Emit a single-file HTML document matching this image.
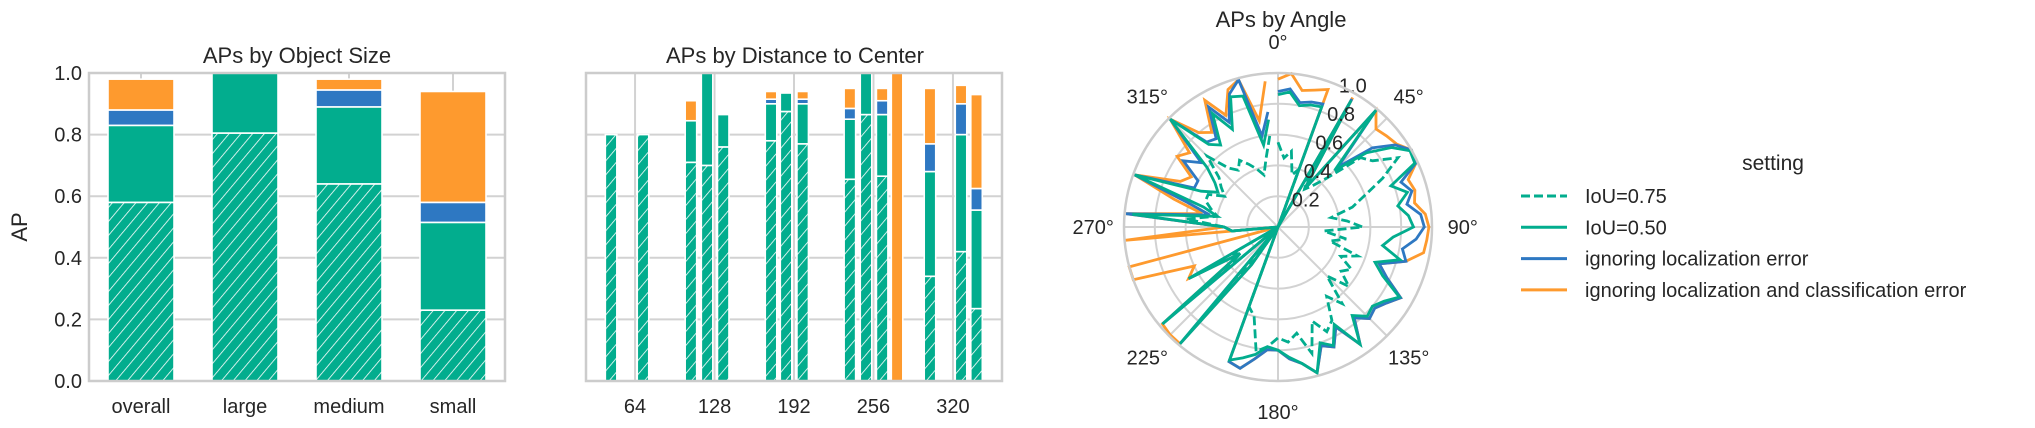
<!DOCTYPE html>
<html><head><meta charset="utf-8"><style>
html,body{margin:0;padding:0;background:#fff;}
svg{display:block;font-family:"Liberation Sans",Arial,sans-serif;}
</style></head><body>
<svg id="fig" width="2035" height="428" viewBox="0 0 2035 428" xmlns="http://www.w3.org/2000/svg">
<defs>
<pattern id="hatch" patternUnits="userSpaceOnUse" width="9" height="9" patternTransform="rotate(40)">
<rect width="9" height="9" fill="#02ad8e"/>
<line x1="0" y1="0" x2="0" y2="9" stroke="#fff" stroke-width="1.6"/>
</pattern>
</defs>
<g id="left"></g>
<g id="mid"></g>
<g id="polar"></g>
<g id="legend"></g>
</svg>
<script>
// ---- Size chart data ----
const sizeCats = ["overall","large","medium","small"];
const sizeIoU75 = [0.58,0.805,0.64,0.23];
const sizeIoU50 = [0.83,1.0,0.89,0.515];
const sizeLoc = [0.88,null,0.945,0.58];
const sizeCls = [0.98,null,0.98,0.94];
const yTicks = [0.0,0.2,0.4,0.6,0.8,1.0];
const yTickLabels = ["0.0","0.2","0.4","0.6","0.8","1.0"];
// ---- Distance chart data ----
const distCenters = [44.7,70.4,109,122,135,173.5,185.6,199,237,250,263,275,301.5,326.5,339];
const distIoU75 = [0.8,0.8,0.71,0.70,0.76,0.78,0.875,0.77,0.655,0.865,0.665,0,0.34,0.42,0.235];
const distIoU50 = [0.8,0.8,0.845,1.0,0.865,0.90,0.935,0.90,0.85,1.0,0.865,0,0.68,0.80,0.555];
const distLoc = [null,null,null,null,null,0.915,null,0.915,0.885,null,0.91,0,0.77,0.90,0.625];
const distCls = [null,null,0.91,null,null,0.94,null,0.94,0.95,null,0.95,1.0,0.95,0.96,0.93];
const distTicks = [64,128,192,256,320];
// ---- Angle chart data ----
const angles = [0,5,10,15,20,25,30,35,40,45,50,55,60,65,70,75,80,85,90,95,100,105,110,115,120,125,130,135,140,145,150,155,160,165,170,175,180,185,190,195,200,205,210,215,220,225,230,235,240,245,250,255,260,265,270,275,280,285,290,295,300,305,310,315,320,325,330,335,340,345,350,355];
const angIoU75 = [0.55,0.45,0.5,0.35,0.4,0,0.4,0.3,0.35,0.45,0.7,0.75,0.9,0.75,0.6,0.5,0.35,0.45,0.55,0.3,0.45,0.35,0.55,0.45,0.55,0.5,0.6,0.45,0.65,0.55,0.7,0.75,0.65,0.85,0.7,0.75,0.72,0.78,0.82,0.6,0.55,0,0,0.25,0.45,0,0.45,0.3,0.35,0,0,0,0,0.3,0.35,0.6,0.4,0.45,0.5,0.5,0.4,0.45,0.5,0.65,0.5,0.45,0.5,0.45,0.4,0.35,0.45,0.6];
const angIoU50 = [0.86,0.88,0.8,0.82,0.83,0,0.95,0.3,0.99,0.52,0.75,0.9,0.99,0.98,0.78,0.87,0.79,0.85,0.88,0.75,0.69,0.82,0.67,0.75,0.91,0.84,0.8,0.82,0.75,0.93,0.73,0.85,0.8,0.98,0.9,0.85,0.8,0.78,0.84,0.88,0.92,0,0,0.3,0.99,0,0.98,0.3,0.67,0,0,0,0,0.3,0.35,0.95,0.4,0.5,0.99,0.55,0.45,0.5,0.6,0.99,0.7,0.65,0.85,0.7,0.9,0.88,0.54,0.7];
const angLoc = [0.88,0.9,0.82,0.84,0.85,0,0.96,0.3,0.99,0.55,0.8,0.93,1.0,0.99,0.85,0.9,0.85,0.93,0.95,0.9,0.82,0.86,0.7,0.78,0.92,0.86,0.82,0.84,0.77,0.93,0.75,0.86,0.82,0.98,0.9,0.86,0.8,0.8,0.87,0.95,0.93,0,0,0.3,0.99,0,0.98,0.3,0.67,0,0,0,0,0.3,0.35,0.99,0.45,0.6,0.99,0.6,0.6,0.75,0.65,0.99,0.72,0.7,0.9,0.75,0.92,0.99,0.6,0.75];
const angCls = [0.96,1.0,0.9,0.92,0.95,0,0.97,0.3,0.99,0.9,0.92,0.94,1.0,0.99,0.9,0.92,0.9,0.96,0.98,0.97,0.96,0.86,0.7,0.78,0.92,0.86,0.82,0.84,0.77,0.93,0.75,0.86,0.82,0.98,0.9,0.86,0.8,0.8,0.87,0.95,0.93,0,0,0.3,0.99,0.99,0.98,0.3,0.67,0.6,1.0,1.0,0,1.0,0.35,0.99,0.5,0.7,0.99,0.7,0.65,0.8,0.75,0.99,0.8,0.75,0.95,0.8,0.95,0.99,0.7,0.95];

const NS="http://www.w3.org/2000/svg";
const GREEN="#02ad8e",BLUE="#2e78c2",ORANGE="#fe9a2e",GRID="#d2d2d2",TXT="#262626";
function mk(tag,parent,attrs){const e=document.createElementNS(NS,tag);for(const k in attrs)e.setAttribute(k,attrs[k]);parent.appendChild(e);return e;}

const Y0=381,Y1=73;
function yv(v){return Y0-(Y0-Y1)*v;}

// ---------- Left chart ----------
const L=document.getElementById('left');
const LX0=89,LX1=505;
function xCat(i){return LX0+(LX1-LX0)*(i+0.5)/sizeCats.length;}
yTicks.forEach((t,i)=>{
  if(t>0&&t<1){const g=mk('line',L,{x1:LX0,x2:LX1,y1:yv(t),y2:yv(t),stroke:GRID,'stroke-width':2});
  
  }
  const lb=mk('text',L,{x:82,y:yv(t)+7,'text-anchor':'end','font-size':20,fill:TXT});lb.textContent=yTickLabels[i];
  
  
});
sizeCats.forEach((c,i)=>{
  const g=mk('line',L,{x1:xCat(i),x2:xCat(i),y1:Y1,y2:Y0,stroke:GRID,'stroke-width':2});
  
  
});
function stackBar(parent,cx,w,vals,name){
  const fills=['url(#hatch)',GREEN,BLUE,ORANGE];
  let prev=0;
  vals.forEach((v,k)=>{
    if(v===null||v<=prev)return;
    const r=mk('rect',parent,{x:cx-w/2,y:yv(v),width:w,height:yv(prev)-yv(v),fill:fills[k],stroke:'#fff','stroke-width':1.6});
    
    
    prev=v;
  });
}
sizeCats.forEach((c,i)=>{
  stackBar(L,xCat(i),66,[sizeIoU75[i],sizeIoU50[i],sizeLoc[i],sizeCls[i]],'bar-'+c);
  const t=mk('text',L,{x:xCat(i),y:413,'text-anchor':'middle','font-size':20,fill:TXT});t.textContent=c;
  
  
});
let fr=mk('rect',L,{x:LX0,y:Y1,width:LX1-LX0,height:Y0-Y1,fill:'none',stroke:'#cccccc','stroke-width':2.5});


let tt=mk('text',L,{x:297,y:63,'text-anchor':'middle','font-size':22,fill:TXT});tt.textContent='APs by Object Size';


let yl=mk('text',L,{x:0,y:0,'text-anchor':'middle','font-size':22,fill:TXT,transform:'translate(27,227) rotate(-90)'});yl.textContent='AP';



// ---------- Middle chart ----------
const M=document.getElementById('mid');
const MX0=586,MX1=1002,D0=24.5,D1=359.5;
function xd(d){return MX0+(MX1-MX0)*(d-D0)/(D1-D0);}
yTicks.forEach(t=>{
  if(t>0&&t<1){const g=mk('line',M,{x1:MX0,x2:MX1,y1:yv(t),y2:yv(t),stroke:GRID,'stroke-width':2});
  
  }
});
distTicks.forEach(d=>{
  const g=mk('line',M,{x1:xd(d),x2:xd(d),y1:Y1,y2:Y0,stroke:GRID,'stroke-width':2});
  
  
  const t=mk('text',M,{x:xd(d),y:413,'text-anchor':'middle','font-size':20,fill:TXT});t.textContent=String(d);
  
  
});
distCenters.forEach((d,i)=>{
  stackBar(M,xd(d),11.5,[distIoU75[i],distIoU50[i],distLoc[i],distCls[i]],'dist-bar-'+i);
});
fr=mk('rect',M,{x:MX0,y:Y1,width:MX1-MX0,height:Y0-Y1,fill:'none',stroke:'#cccccc','stroke-width':2.5});


tt=mk('text',M,{x:795,y:63,'text-anchor':'middle','font-size':22,fill:TXT});tt.textContent='APs by Distance to Center';



// ---------- Polar ----------
const P=document.getElementById('polar');
const CX=1278,CY=227,R=154;
function pxy(a,r){const t=a*Math.PI/180;return [CX+R*r*Math.sin(t),CY-R*r*Math.cos(t)];}
[0.2,0.4,0.6,0.8].forEach(r=>{
  const c=mk('circle',P,{cx:CX,cy:CY,r:R*r,fill:'none',stroke:GRID,'stroke-width':2});
  
  
});
[0,45,90,135,180,225,270,315].forEach(a=>{
  const p=pxy(a,1);
  const l=mk('line',P,{x1:CX,y1:CY,x2:p[0],y2:p[1],stroke:GRID,'stroke-width':2});
  
  
  const q=pxy(a,1.2);
  const t=mk('text',P,{x:q[0],y:q[1]+7,'text-anchor':'middle','font-size':20,fill:TXT});t.textContent=a+'°';
  
  
});
function series(vals,color,dash,name){
  const pts=angles.map((a,i)=>pxy(a,vals[i]).map(v=>v.toFixed(1)).join(',')).join(' ');
  const pl=mk('polyline',P,{points:pts,fill:'none',stroke:color,'stroke-width':2.8,'stroke-linejoin':'miter','stroke-dasharray':dash});
  
  
}
series(angCls,ORANGE,'none','series-ignore-loc-cls');
series(angLoc,BLUE,'none','series-ignore-loc');
series(angIoU50,GREEN,'none','series-iou50');
series(angIoU75,GREEN,'9,4','series-iou75');
[0.2,0.4,0.6,0.8,1.0].forEach(r=>{
  const p=pxy(22.5,r);
  const t=mk('text',P,{x:p[0]+2,y:p[1]+8,'text-anchor':'start','font-size':20,fill:TXT});t.textContent=r.toFixed(1);
  
  
});
const oc=mk('circle',P,{cx:CX,cy:CY,r:R,fill:'none',stroke:'#cccccc','stroke-width':2.5});


tt=mk('text',P,{x:1281,y:27,'text-anchor':'middle','font-size':22,fill:TXT});tt.textContent='APs by Angle';



// ---------- Legend ----------
const G=document.getElementById('legend');
const legNames=["IoU=0.75","IoU=0.50","ignoring localization error","ignoring localization and classification error"];
const legColors=[GREEN,GREEN,BLUE,ORANGE];
const legDash=['9,4','none','none','none'];
const lt=mk('text',G,{x:1773,y:170,'text-anchor':'middle','font-size':21,fill:TXT});lt.textContent='setting';


legNames.forEach((n,i)=>{
  const y=196+i*31.3;
  const l=mk('line',G,{x1:1521,x2:1567,y1:y,y2:y,stroke:legColors[i],'stroke-width':3,'stroke-dasharray':legDash[i]});
  
  
  const t=mk('text',G,{x:1585,y:y+7,'font-size':20,fill:TXT});t.textContent=n;
  
  
});
</script>
</body></html>
